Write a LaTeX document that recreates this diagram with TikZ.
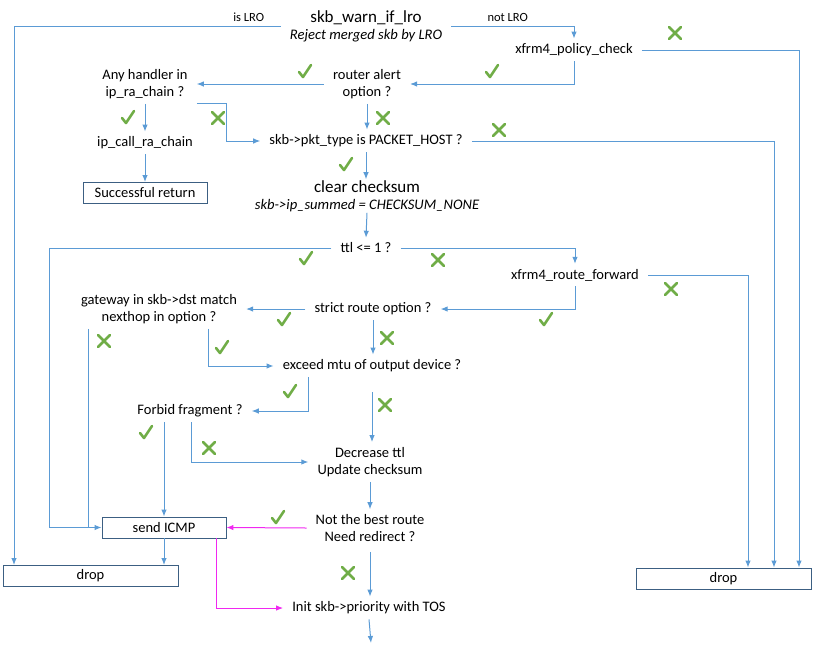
\documentclass[tikz,border=0pt]{standalone}
\usepackage{fontspec}
\setmainfont{Carlito}
\usetikzlibrary{arrows.meta}
\definecolor{flowblue}{RGB}{91,155,213}
\definecolor{boxedge}{RGB}{60,95,130}
\definecolor{okgreen}{RGB}{112,173,71}
\definecolor{redirpink}{RGB}{240,40,240}
\newcommand\fnorm{\fontsize{14.5}{17}\selectfont}
\newcommand\fbig{\fontsize{17}{19}\selectfont}
\newcommand\fital{\fontsize{14.6}{16}\selectfont\itshape}
\newcommand\fsmall{\fontsize{12.5}{14}\selectfont}
\tikzset{
    >={Latex[length=7pt, width=5.5pt]},
    flow/.style={->, flowblue, line width=1pt},
    merge/.style={flowblue, line width=1pt},
    redirect/.style={flow, redirpink},
    txt/.style={inner xsep=9pt, inner ysep=5pt, align=center, font=\fnorm},
    box/.style={txt, draw=boxedge, line width=0.9pt, minimum width=#1, minimum height=21pt, inner ysep=2pt},
    branch/.style={font=\fsmall, text=black, above=1pt},
    markline/.style={okgreen, line width=2.6pt, line cap=round, line join=round},
    okmark/.pic={\draw[markline] (-6,0) -- (-2,5) -- (6,-7);},
    nomark/.pic={\draw[markline] (-6,-6) -- (6,6) (-6,6) -- (6,-6);},
}

\begin{document}
\begin{tikzpicture}[x=1pt, y=-1pt]
    \useasboundingbox (0,0) rectangle (818,648);
    % entry
    \node[txt, inner ysep=1pt] (lro) at (366,26) {{\fbig skb\_warn\_if\_lro}\\{\fital Reject merged skb by LRO}};
    \node[txt] (xfrm) at (574,50) {xfrm4\_policy\_check};
    \node[txt] (router) at (367,84) {router alert\\option ?};
    \node[txt] (any) at (145,84) {Any handler in\\ip\_ra\_chain ?};
    \node[txt] (racall) at (145,143) {ip\_call\_ra\_chain};
    \node[box=124pt] (succ) at (145,193) {Successful return};
    \node[txt] (pkt) at (366,141) {skb->pkt\_type is PACKET\_HOST ?};
    \node[txt, inner ysep=1pt] (clear) at (367,196) {{\fbig clear checksum}\\{\fital skb->ip\_summed = CHECKSUM\_NONE}};
    % forwarding
    \node[txt] (ttl) at (366,248) {ttl <= 1 ?};
    \node[txt] (fwd) at (575,275) {xfrm4\_route\_forward};
    \node[txt] (strict) at (373,309) {strict route option ?};
    \node[txt] (gw) at (159,309) {gateway in skb->dst match\\nexthop in option ?};
    \node[txt] (exceed) at (372,366) {exceed mtu of output device ?};
    \node[txt] (forbid) at (190,411) {Forbid fragment ?};
    \node[txt] (dec) at (370,462) {Decrease ttl\\Update checksum};
    \node[txt] (best) at (370,528) {Not the best route\\Need redirect ?};
    \node[box=124pt] (icmp) at (164,527.5) {send ICMP};
    \node[txt] (init) at (369,608) {Init skb->priority with TOS};
    \node[box=175pt] (dropl) at (90.5,576) {drop};
    \node[box=175pt] (dropr) at (723.5,578.5) {drop};
    \coordinate (out) at (371,643);

    \draw[flow] (lro.west) -| node[branch, pos=0.06] (islro) {is LRO} ([xshift=-76.5pt]dropl.north);
    \draw[flow] (lro.east) -| node[branch, pos=0.23] (notlro) {not LRO} (xfrm.north);
    \draw[flow] (xfrm.south) |- (router.east);
    \draw[flow] (xfrm.east) -| ([xshift=75.5pt]dropr.north);
    \draw[flow] (router.west) -- (any.east);
    \draw[flow] (any.south) -- (racall.north);
    \draw[flow] (racall.south) -- (succ.north);
    \draw[flow] (any.south east) -- ++(30,0) |- (pkt.west);
    \draw[flow] (router.south) -- (router.south |- pkt.north);
    \draw[flow] (pkt.east) -| ([xshift=50.5pt]dropr.north);
    \draw[flow] (pkt.south) -- (pkt.south |- clear.north);
    \draw[flow] (clear.south) -- (ttl.north);
    \draw[flow] (ttl.west) -| ([xshift=-52pt]icmp.west) -- (icmp.west);
    \draw[flow] (ttl.east) -| (fwd.north);
    \draw[flow] (fwd.south) |- (strict.east);
    \draw[flow] (fwd.east) -| ([xshift=24.5pt]dropr.north);
    \draw[flow] (strict.west) -- (gw.east);
    \draw[flow] (strict.south) -- (strict.south |- exceed.north);
    \draw[flow] ([xshift=49pt]gw.south) |- (exceed.west);
    \draw[merge] ([xshift=-71pt]gw.south) -- ([xshift=-71pt]gw.south |- icmp.west);
    \draw[flow] ([xshift=-64pt]exceed.south) |- (forbid.east);
    \draw[flow, shorten <=15pt] (exceed.south) -- (exceed.south |- dec.north);
    \draw[flow] ([xshift=-26pt]forbid.south) -- (icmp.north);
    \draw[flow] ([xshift=1pt]forbid.south) |- (dec.west);
    \draw[flow] (dec.south) -- (best.north);
    \draw[redirect] (best.west) -- (icmp.east);
    \draw[flow, shorten <=5pt] (best.south) -- (best.south |- init.north);
    \draw[redirect] ([xshift=52pt]icmp.south) |- (init.west);
    \draw[flow] (icmp.south) -- (icmp.south |- dropl.north);
    \draw[flow] (init.south) -- (out);

    \foreach \p in {(305,72),(492,72),(128,118),(346,165),(306,259),(546,320),(284,320),(222,348),(290,392),(146,433),(278,518)}
        \pic at \p {okmark};
    \foreach \p in {(675,33),(383,118),(218,118),(499,130),(438,260),(671,289),(104,341),(387,338),(385,405),(209,448),(348,573)}
        \pic at \p {nomark};
\end{tikzpicture}
\end{document}
